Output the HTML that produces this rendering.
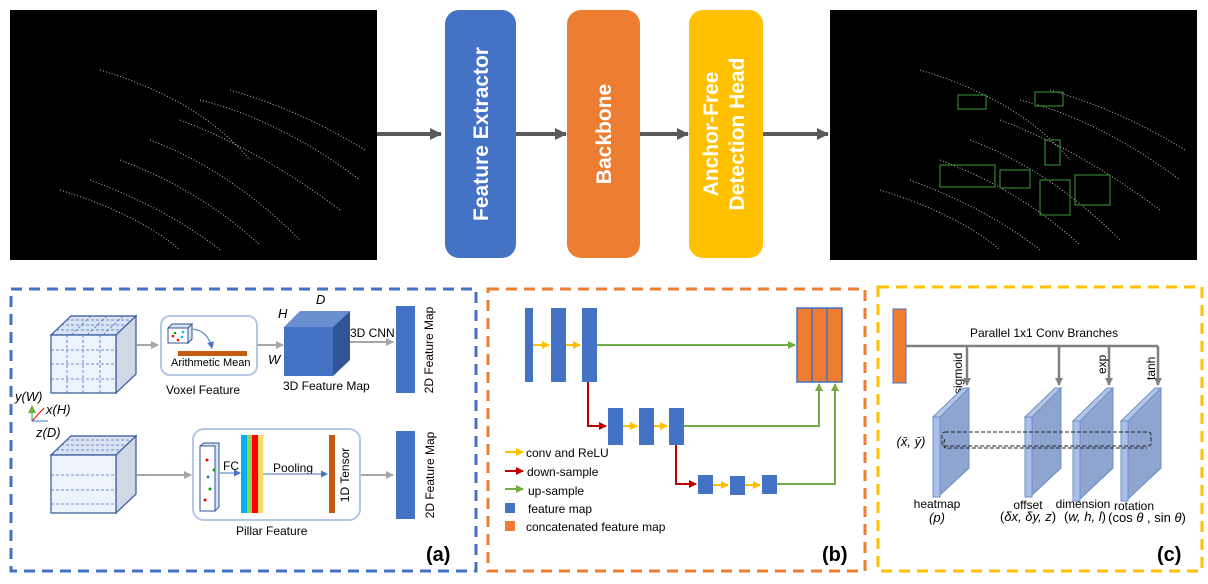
<!DOCTYPE html>
<html><head><meta charset="utf-8"><style>body{margin:0;background:#fff}svg{display:block}text{font-family:"Liberation Sans",sans-serif}</style></head><body>
<svg width="1208" height="584" viewBox="0 0 1208 584" xmlns="http://www.w3.org/2000/svg">
<defs>
<marker id="ag" markerWidth="8" markerHeight="8" refX="7" refY="4" orient="auto" markerUnits="userSpaceOnUse"><path d="M0,0 L8,4 L0,8z" fill="#a6a6a6"/></marker>
<marker id="ad" markerWidth="12" markerHeight="12" refX="11" refY="6" orient="auto" markerUnits="userSpaceOnUse"><path d="M0,0 L12,6 L0,12z" fill="#595959"/></marker>
<marker id="ay" markerWidth="8" markerHeight="8" refX="7" refY="4" orient="auto" markerUnits="userSpaceOnUse"><path d="M0,0 L8,4 L0,8z" fill="#ffc000"/></marker>
<marker id="ar" markerWidth="8" markerHeight="8" refX="7" refY="4" orient="auto" markerUnits="userSpaceOnUse"><path d="M0,0 L8,4 L0,8z" fill="#c00000"/></marker>
<marker id="agr" markerWidth="8" markerHeight="8" refX="7" refY="4" orient="auto" markerUnits="userSpaceOnUse"><path d="M0,0 L8,4 L0,8z" fill="#70ad47"/></marker>
<marker id="ab" markerWidth="7" markerHeight="7" refX="6" refY="3.5" orient="auto" markerUnits="userSpaceOnUse"><path d="M0,0 L7,3.5 L0,7z" fill="#4472c4"/></marker>
<marker id="agc" markerWidth="8" markerHeight="8" refX="7" refY="4" orient="auto" markerUnits="userSpaceOnUse"><path d="M0,0 L8,4 L0,8z" fill="#7f7f7f"/></marker>
</defs>
<!-- top row -->
<rect x="10" y="10" width="367" height="250" fill="#000"/>
<rect x="830" y="10" width="367" height="250" fill="#000"/>
<g stroke="#bbb" stroke-width="1" fill="none" stroke-dasharray="1 2">
<path d="M150,140 Q230,170 300,240"/><path d="M120,160 Q200,190 260,245"/><path d="M180,120 Q260,150 340,210"/><path d="M90,180 Q170,210 220,250"/><path d="M200,100 Q280,120 360,180"/><path d="M60,190 Q140,215 180,250"/><path d="M230,90 Q300,110 365,150"/><path d="M100,70 Q200,100 250,160"/>
<path d="M970,140 Q1050,170 1120,240"/><path d="M940,160 Q1020,190 1080,245"/><path d="M1000,120 Q1080,150 1160,210"/><path d="M910,180 Q990,210 1040,250"/><path d="M1020,100 Q1100,120 1180,180"/><path d="M880,190 Q960,215 1000,250"/><path d="M1050,90 Q1120,110 1185,150"/><path d="M920,70 Q1020,100 1070,160"/>
</g>
<g stroke="#3c9b3c" stroke-width="1" fill="none">
<rect x="958" y="95" width="28" height="14"/><rect x="1035" y="92" width="28" height="14"/><rect x="940" y="165" width="55" height="22"/><rect x="1000" y="170" width="30" height="18"/><rect x="1045" y="140" width="15" height="25"/><rect x="1040" y="180" width="30" height="35"/><rect x="1075" y="175" width="35" height="30"/>
</g>
<g stroke="#595959" stroke-width="4"><line x1="377" y1="134" x2="441" y2="134" marker-end="url(#ad)"/><line x1="516" y1="134" x2="566" y2="134" marker-end="url(#ad)"/><line x1="640" y1="134" x2="688" y2="134" marker-end="url(#ad)"/><line x1="763" y1="134" x2="828" y2="134" marker-end="url(#ad)"/></g>
<rect x="445" y="10" width="71" height="248" rx="14" fill="#4472c4"/>
<rect x="567" y="10" width="73" height="248" rx="14" fill="#ed7d31"/>
<rect x="689" y="10" width="74" height="248" rx="14" fill="#ffc000"/>
<g fill="#fff" font-weight="bold" font-size="21" text-anchor="middle">
<text transform="translate(488,134) rotate(-90)">Feature Extractor</text>
<text transform="translate(611,134) rotate(-90)">Backbone</text>
<text transform="translate(718,134) rotate(-90)">Anchor-Free</text>
<text transform="translate(744,134) rotate(-90)">Detection Head</text>
</g>
<!-- panel frames -->
<rect x="11" y="289" width="465" height="282" fill="none" stroke="#4472c4" stroke-width="3" stroke-dasharray="11 7"/>
<rect x="488" y="289" width="377" height="282" fill="none" stroke="#ed7d31" stroke-width="3" stroke-dasharray="11 7"/>
<rect x="878" y="287" width="324" height="284" fill="none" stroke="#ffc000" stroke-width="3" stroke-dasharray="11 7"/>
<g font-weight="bold" font-size="20"><text x="426" y="561">(a)</text><text x="822" y="561">(b)</text><text x="1157" y="561">(c)</text></g>
<!-- panel a -->
<g stroke="#2f5597" stroke-width="1.2">
<path d="M51,335 L71,316 L136,316 L116,335z" fill="#dae3f3"/><path d="M116,335 L136,316 L136,374 L116,393z" fill="#d0d8e6"/>
<rect x="51" y="335" width="65" height="58" fill="#eef2fa"/>
<path d="M51,455 L71,436 L136,436 L116,455z" fill="#dae3f3"/><path d="M116,455 L136,436 L136,494 L116,513z" fill="#d0d8e6"/>
<rect x="51" y="455" width="65" height="58" fill="#eef2fa"/>
</g>
<g stroke="#4472c4" stroke-width="0.8" stroke-dasharray="3 2" fill="none">
<path d="M67,335V393M83,335V393M100,335V393M51,350H116M51,364H116M51,379H116"/>
<path d="M56,330H121M61,325H126M66,320H131M71,335L91,316M87,335L107,316M103,335L123,316"/>
<path d="M51,475H116M51,490H116M51,504H116M56,450H121M61,445H126M66,440H131"/>
</g>
<rect x="161" y="316" width="96" height="59" rx="9" fill="#fff" stroke="#b4c7e7" stroke-width="2"/>
<path d="M168,328 L172,324 L192,324 L188,328z M188,328 L192,324 L192,339 L188,343z" fill="#dae3f3" stroke="#2f5597"/><rect x="168" y="328" width="20" height="15" fill="#fff" stroke="#2f5597"/>
<circle cx="175" cy="333" r="1.3" fill="#0a0"/><circle cx="183" cy="332" r="1.3" fill="#0bf"/><circle cx="173" cy="336" r="1.3" fill="#f00"/><circle cx="182" cy="337" r="1.3" fill="#0bf"/><circle cx="178" cy="340" r="1.3" fill="#f00"/>
<path d="M193,329 Q208,331 212,348" stroke="#4472c4" fill="none" marker-end="url(#ab)"/>
<rect x="178" y="351" width="69" height="5" fill="#c55a11"/>
<text x="171" y="366" font-size="11">Arithmetic Mean</text>
<text x="166" y="394" font-size="12">Voxel Feature</text>
<path d="M284,327 L300,311 L350,311 L333,327z" fill="#6a8fd0"/><path d="M333,327 L350,311 L350,360 L333,376z" fill="#2f5597"/><rect x="284" y="327" width="49" height="49" fill="#4472c4"/>
<g font-family="Liberation Serif" font-style="italic" font-size="13"><text x="316" y="304">D</text><text x="278" y="318">H</text><text x="268" y="364">W</text>
<text x="15" y="401">y(W)</text><text x="46" y="414">x(H)</text><text x="36" y="437">z(D)</text></g>
<text x="283" y="390" font-size="12">3D Feature Map</text>
<text x="350" y="337" font-size="12">3D CNN</text>
<path d="M32,421V406" stroke="#00b050" marker-end="url(#agr)"/><path d="M32,421L44,408" stroke="#f00"/><path d="M32,421H48" stroke="#4472c4"/>
<g stroke="#a6a6a6" stroke-width="2" fill="none"><path d="M137,345H158" marker-end="url(#ag)"/><path d="M257,345H283" marker-end="url(#ag)"/><path d="M350,342H393" marker-end="url(#ag)"/><path d="M137,475H191" marker-end="url(#ag)"/><path d="M360,475H393" marker-end="url(#ag)"/></g>
<rect x="396" y="306" width="19" height="87" fill="#4472c4"/><rect x="396" y="431" width="19" height="88" fill="#4472c4"/>
<rect x="193" y="429" width="167" height="91" rx="11" fill="#fff" stroke="#b4c7e7" stroke-width="2"/>
<g font-size="12" text-anchor="middle"><text transform="translate(433,350) rotate(-90)">2D Feature Map</text><text transform="translate(434,475) rotate(-90)">2D Feature Map</text><text transform="translate(349,475) rotate(-90)">1D Tensor</text></g>
<path d="M200,446 L204,443 L219,443 L219,507 L215,511z" fill="#dae3f3" stroke="#2f5597"/><rect x="200" y="446" width="15" height="65" fill="#fff" stroke="#2f5597"/>
<circle cx="207" cy="460" r="1.5" fill="#f00"/><circle cx="214" cy="470" r="1.5" fill="#0a0"/><circle cx="208" cy="477" r="1.5" fill="#4472c4"/><circle cx="210" cy="489" r="1.5" fill="#0a0"/><circle cx="205" cy="500" r="1.5" fill="#f00"/>
<text x="223" y="470" font-size="12">FC</text><path d="M220,473H240" stroke="#4472c4" marker-end="url(#ab)"/>
<rect x="241" y="435" width="6" height="78" fill="#00b0f0"/><rect x="247" y="435" width="5" height="78" fill="#92d050"/><rect x="252" y="435" width="6" height="78" fill="#f00"/><rect x="258" y="435" width="5" height="78" fill="#ffd966"/>
<text x="273" y="472" font-size="12">Pooling</text><path d="M263,474H327" stroke="#4472c4" marker-end="url(#ab)"/>
<rect x="329" y="435" width="6" height="78" fill="#c55a11"/>
<text x="236" y="535" font-size="12">Pillar Feature</text>
<!-- panel b -->
<g fill="#4472c4"><rect x="525" y="308" width="8" height="74"/><rect x="551" y="308" width="15" height="74"/><rect x="582" y="308" width="15" height="74"/>
<rect x="608" y="408" width="15" height="37"/><rect x="639" y="408" width="15" height="37"/><rect x="669" y="408" width="15" height="37"/>
<rect x="698" y="475" width="15" height="19"/><rect x="730" y="476" width="15" height="19"/><rect x="762" y="475" width="15" height="19"/>
<rect x="505" y="503" width="10" height="10"/></g>
<rect x="505" y="521" width="10" height="10" fill="#ed7d31"/>
<rect x="797" y="308" width="45" height="74" fill="#ed7d31" stroke="#4472c4" stroke-width="1.5"/><path d="M812,308V382M827,308V382" stroke="#4472c4" stroke-width="1.5"/>
<g stroke="#ffc000" stroke-width="2"><path d="M533,345H549" marker-end="url(#ay)"/><path d="M566,345H580" marker-end="url(#ay)"/><path d="M623,426H637" marker-end="url(#ay)"/><path d="M654,426H667" marker-end="url(#ay)"/><path d="M713,485H728" marker-end="url(#ay)"/><path d="M745,485H760" marker-end="url(#ay)"/><path d="M505,452H523" marker-end="url(#ay)"/></g>
<g stroke="#c00000" stroke-width="2" fill="none"><path d="M588,382V426H606" marker-end="url(#ar)"/><path d="M676,445V484H696" marker-end="url(#ar)"/><path d="M505,471H523" marker-end="url(#ar)"/></g>
<g stroke="#70ad47" stroke-width="2" fill="none"><path d="M597,345H795" marker-end="url(#agr)"/><path d="M684,426H819V384" marker-end="url(#agr)"/><path d="M777,484H835V384" marker-end="url(#agr)"/><path d="M505,489H523" marker-end="url(#agr)"/></g>
<g font-size="12"><text x="526" y="457">conv and ReLU</text><text x="527" y="476">down-sample</text><text x="528" y="495">up-sample</text><text x="528" y="513">feature map</text><text x="526" y="531">concatenated feature map</text></g>
<!-- panel c -->
<rect x="893" y="309" width="13" height="74" fill="#ed7d31" stroke="#4472c4"/>
<g stroke="#7f7f7f" stroke-width="2.5" fill="none"><path d="M906,346H1158"/><path d="M967,346V385" marker-end="url(#agc)"/><path d="M1059,346V385" marker-end="url(#agc)"/><path d="M1109,346V385" marker-end="url(#agc)"/><path d="M1158,346V385" marker-end="url(#agc)"/></g>
<text x="970" y="337" font-size="12">Parallel 1x1 Conv Branches</text>
<g font-size="12"><text transform="translate(962,394) rotate(-90)">sigmoid</text><text transform="translate(1106,374) rotate(-90)">exp</text><text transform="translate(1155,380) rotate(-90)">tanh</text></g>
<g stroke="#6f8fc9" stroke-width="1">
<path d="M933,417 L969,388 L969,468 L939,496z" fill="#8ea5d0"/><rect x="933" y="417" width="7" height="80" fill="#a9c0ea"/><path d="M933,417 L963,388 L969,388 L940,417z" fill="#b4c7e7"/>
<path d="M1025,417 L1061,388 L1061,468 L1031,496z" fill="#8ea5d0"/><rect x="1025" y="417" width="7" height="80" fill="#a9c0ea"/><path d="M1025,417 L1055,388 L1061,388 L1032,417z" fill="#b4c7e7"/>
<path d="M1073,421 L1113,388 L1113,468 L1079,500z" fill="#8ea5d0"/><rect x="1073" y="421" width="7" height="80" fill="#a9c0ea"/><path d="M1073,421 L1107,388 L1113,388 L1080,421z" fill="#b4c7e7"/>
<path d="M1121,421 L1161,388 L1161,468 L1127,500z" fill="#8ea5d0"/><rect x="1121" y="421" width="7" height="80" fill="#a9c0ea"/><path d="M1121,421 L1155,388 L1161,388 L1128,421z" fill="#b4c7e7"/>
</g>
<g stroke="#222" stroke-dasharray="4 2" fill="none"><rect x="942" y="432" width="209" height="14" rx="3"/><path d="M945,439 Q941,450 950,448H1147"/></g>
<g font-family="Liberation Serif" font-size="13" text-anchor="middle"><text x="911" y="446" font-style="italic">(x̄, ȳ)</text><text x="937" y="522" font-style="italic">(p)</text><text x="1028" y="521">(<tspan font-style="italic">δx, δy, z</tspan>)</text><text x="1085" y="521">(<tspan font-style="italic">w, h, l</tspan>)</text><text x="1147" y="522">(cos <tspan font-style="italic">θ</tspan> , sin <tspan font-style="italic">θ</tspan>)</text></g>
<g font-size="12" text-anchor="middle"><text x="937" y="508">heatmap</text><text x="1028" y="509">offset</text><text x="1083" y="508">dimension</text><text x="1134" y="510">rotation</text></g>
</svg>
</body></html>
